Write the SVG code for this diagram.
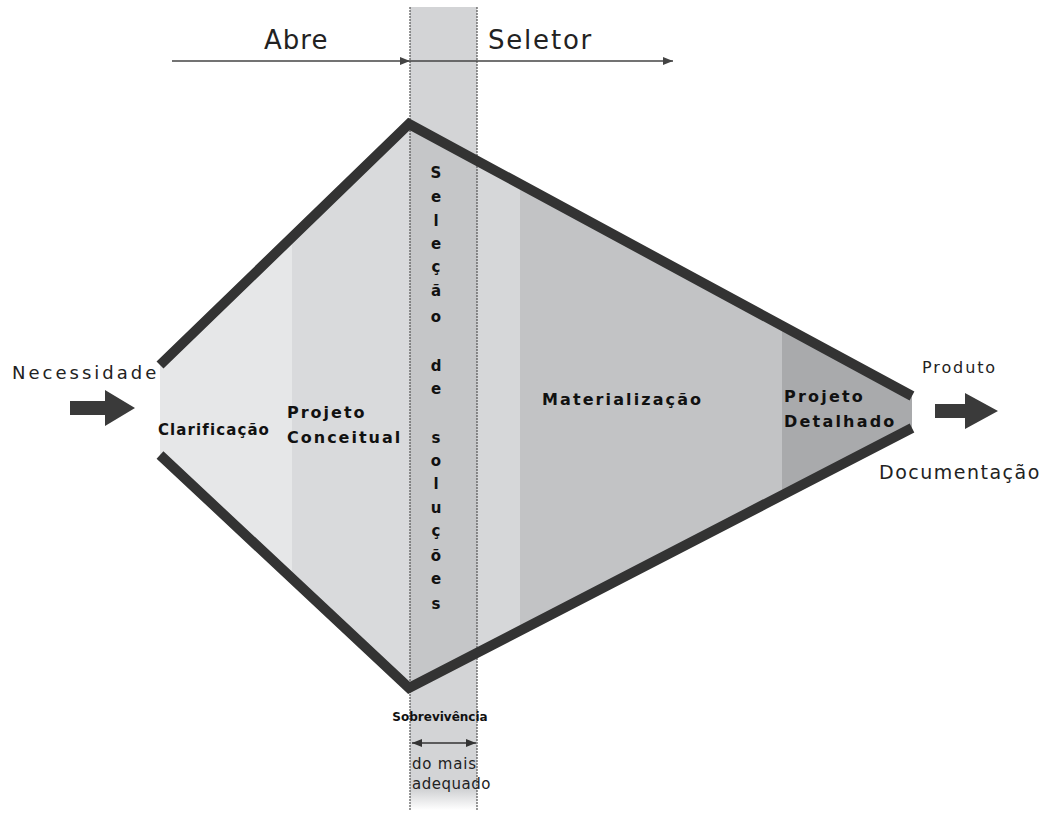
<svg xmlns="http://www.w3.org/2000/svg" width="1045" height="823" viewBox="0 0 1045 823">
<style>
.lbl{font-family:"DejaVu Sans",sans-serif;fill:#222}
.b{font-family:"DejaVu Sans",sans-serif;font-weight:bold;fill:#111}
.edge{fill:none;stroke:#333;stroke-width:10;stroke-linejoin:miter}
.dot{stroke:#555;stroke-width:1.2;stroke-dasharray:2 1}
.thin{stroke:#444;stroke-width:1.5;fill:none}
.vl{font-family:"DejaVu Sans",sans-serif;font-weight:bold;font-size:15px;fill:#111;text-anchor:middle}
</style>
<defs>
<clipPath id="shape"><polygon points="160,365 409,124 912,396 912,428 409,688 160,455"/></clipPath>
<marker id="ah" markerWidth="10" markerHeight="8" refX="10" refY="4" orient="auto" markerUnits="userSpaceOnUse"><path d="M0,0 L10,4 L0,8 z" fill="#444"/></marker>
<marker id="ahs" markerWidth="10" markerHeight="8" refX="10" refY="4" orient="auto-start-reverse" markerUnits="userSpaceOnUse"><path d="M0,0 L10,4 L0,8 z" fill="#333"/></marker>
<linearGradient id="fade" x1="0" y1="0" x2="0" y2="1"><stop offset="0" stop-color="#d2d3d5"/><stop offset="1" stop-color="#ffffff"/></linearGradient>
</defs>
<rect width="1045" height="823" fill="#fff"/>
<g id="band">
<rect x="410" y="7" width="67" height="785" fill="#d3d4d6"/>
<rect x="410" y="790" width="67" height="20" fill="url(#fade)"/>
</g>
<g id="regions" clip-path="url(#shape)">
<rect x="150" y="100" width="142" height="600" fill="#e6e7e8"/>
<rect x="292" y="100" width="118" height="600" fill="#d9dadc"/>
<rect x="410" y="100" width="67" height="600" fill="#c5c6c8"/>
<rect x="477" y="100" width="43" height="600" fill="#d6d7d9"/>
<rect x="520" y="100" width="262" height="600" fill="#c2c3c5"/>
<rect x="782" y="100" width="140" height="600" fill="#a9aaac"/>
</g>
<g id="band-lines">
<line class="dot" x1="410" y1="7" x2="410" y2="810"/>
<line class="dot" x1="477" y1="7" x2="477" y2="810"/>
</g>
<g id="connectors">
<line class="thin" x1="172" y1="61" x2="410" y2="61" marker-end="url(#ah)"/>
<line class="thin" x1="410" y1="61" x2="673" y2="61" marker-end="url(#ah)"/>
<line x1="412" y1="743" x2="476" y2="743" stroke="#333" stroke-width="1.5" marker-start="url(#ahs)" marker-end="url(#ahs)"/>
<polygon points="70,401 105,401 105,390 135,408 105,426 105,415 70,415" fill="#3a3a3a"/>
<polygon points="935,404 965,404 965,393 998,411 965,429 965,418 935,418" fill="#3a3a3a"/>
</g>
<g id="edges">
<polyline class="edge" points="160,365 409,124 912,396"/>
<polyline class="edge" points="912,428 409,688 160,455"/>
</g>
<g id="labels">
<text class="lbl" x="264" y="49" font-size="26" letter-spacing="1">Abre</text>
<text class="lbl" x="488" y="49" font-size="26" letter-spacing="1.8">Seletor</text>
<text class="lbl" x="12" y="379" font-size="18" letter-spacing="3">Necessidade</text>
<text class="lbl" x="922" y="373" font-size="16" letter-spacing="1.9">Produto</text>
<text class="lbl" x="879" y="479" font-size="19" letter-spacing="1.5">Documentação</text>
<text class="b" x="158" y="435" font-size="15" letter-spacing="1.1">Clarificação</text>
<text class="b" x="287" y="418" font-size="16" letter-spacing="2">Projeto</text>
<text class="b" x="287" y="443" font-size="16" letter-spacing="2">Conceitual</text>
<text class="b" x="542" y="405" font-size="16" letter-spacing="2.1">Materialização</text>
<text class="b" x="784" y="402" font-size="16" letter-spacing="2.2">Projeto</text>
<text class="b" x="784" y="427" font-size="16" letter-spacing="2.2">Detalhado</text>
<text class="b" x="440" y="721" font-size="12" text-anchor="middle">Sobrevivência</text>
<text class="lbl" x="412" y="769" font-size="15" letter-spacing="0.8">do mais</text>
<text class="lbl" x="412" y="789" font-size="15" letter-spacing="0.5">adequado</text>
</g>
<g id="vertical-text">
<text class="vl" x="436" y="178">S</text>
<text class="vl" x="436" y="202">e</text>
<text class="vl" x="436" y="226">l</text>
<text class="vl" x="436" y="249">e</text>
<text class="vl" x="436" y="272">ç</text>
<text class="vl" x="436" y="296">ã</text>
<text class="vl" x="436" y="322">o</text>
<text class="vl" x="436" y="371">d</text>
<text class="vl" x="436" y="394">e</text>
<text class="vl" x="436" y="443">s</text>
<text class="vl" x="436" y="466">o</text>
<text class="vl" x="436" y="489">l</text>
<text class="vl" x="436" y="513">u</text>
<text class="vl" x="436" y="536">ç</text>
<text class="vl" x="436" y="561">õ</text>
<text class="vl" x="436" y="584">e</text>
<text class="vl" x="436" y="609">s</text>
</g>
</svg>
